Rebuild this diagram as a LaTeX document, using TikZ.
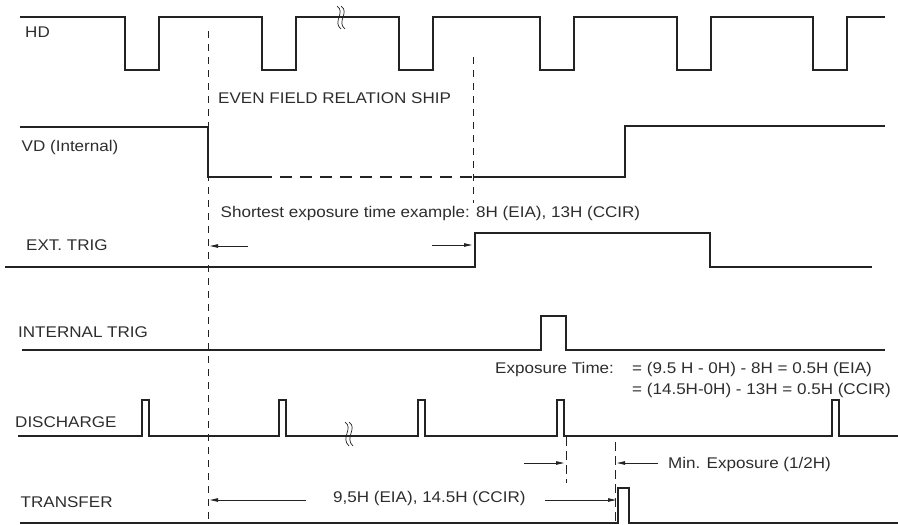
\documentclass[tikz,border=0pt]{standalone}
\usepackage{fontspec}
\setmainfont{Liberation Sans}[FakeStretch=1.1]
\usetikzlibrary{arrows.meta}
\definecolor{ink}{RGB}{35,35,35}
\definecolor{txt}{RGB}{45,45,45}
\tikzset{
  sig/.style={draw=ink,line width=1.6pt},  % waveform
  guide/.style={draw=ink,line width=0.8pt,dash pattern=on 7pt off 6pt},
  guidefine/.style={draw=ink,line width=0.8pt,dash pattern=on 9pt off 5pt},
  vddash/.style={draw=ink,line width=1.6pt,dash pattern=on 12pt off 8pt},
  dim/.style={draw=ink,line width=0.8pt,-{Triangle[length=8pt,width=3.5pt]}},
  brk/.style={draw=ink,line width=0.7pt},
  lbl/.style={anchor=base west,inner sep=0pt,text=txt,font=\fontsize{15.5}{18}\selectfont},
}
\begin{document}
\begin{tikzpicture}[x=1pt,y=-1pt]
\useasboundingbox (0,0) rectangle (898,525);

% signal names
\node[lbl] (hd) at (25,37.5) {HD};
\node[lbl] (vd) at (21.5,151) {VD (Internal)};
\node[lbl] (ext) at (26,250) {EXT. TRIG};
\node[lbl] (int) at (18,337) {INTERNAL TRIG};
\node[lbl] (dis) at (15,427) {DISCHARGE};
\node[lbl] (tra) at (20.5,507) {TRANSFER};

% notes
\node[lbl] (even) at (218,103.5) {EVEN FIELD RELATION SHIP};
\node[lbl] (short) at (220.5,217) {Shortest exposure time example: 8H (EIA), 13H (CCIR)};
\node[lbl] (expo) at (495,373) {Exposure Time:};
\node[lbl] (eq1) at (632,373) {= (9.5 H - 0H) - 8H = 0.5H (EIA)};
\node[lbl] (eq2) at (632,394) {= (14.5H-0H) - 13H = 0.5H (CCIR)};
\node[lbl] (minx) at (668,468) {Min. Exposure (1/2H)};
\node[lbl] (tdel) at (333,502.5) {9,5H (EIA), 14.5H (CCIR)};

% waveforms
\draw[sig] (20,17) foreach \x in {125,262,399,540,677,813} {
  -- (\x,17) -- (\x,70) -- ++(34,0) -- ++(0,-53)} -- (885,17);
\draw[sig] (20,127) -- (208,127) -- (208,177) -- (260,177);
\draw[vddash] (260,177) -- (473,177);
\draw[sig] (473,177) -- (625,177) -- (625,126) -- (885,126);
\draw[sig] (5,267) -- (475,267) -- (475,233) -- (710,233) -- (710,267) -- (872,267);
\draw[sig] (22,350) -- (541,350) -- (541,316) -- (566,316) -- (566,350) -- (885,350);
\draw[sig] (18,436) foreach \x in {142,279,418,557,832} {
  -- (\x,436) -- (\x,400) -- ++(7,0) -- ++(0,36)} -- (898,436);
\draw[sig] (20,523) -- (618,523) -- (618,488) -- (629,488) -- (629,523) -- (898,523);

% break marks
\foreach \d in {0,4} \draw[brk] (337+\d,6) .. controls (346+\d,12) and (332+\d,22) .. (341+\d,29);
\foreach \d in {0,4} \draw[brk] (345+\d,422) .. controls (354+\d,428) and (340+\d,438) .. (349+\d,446);

% guides
\draw[guide] (208,31) -- (208,521);
\draw[guide] (473,57) -- (473,203);
\draw[guidefine] (566,437) -- (566,483);
\draw[guidefine] (615,442) -- (615,521);

% dimension arrows
\coordinate (e1) at (248,246); \coordinate (e2) at (210,246);
\coordinate (e3) at (432,245); \coordinate (e4) at (472,245);
\coordinate (m1) at (524,463); \coordinate (m2) at (564,463);
\coordinate (m3) at (658,463); \coordinate (m4) at (617,463);
\coordinate (t1) at (306,500); \coordinate (t2) at (210,500);
\coordinate (t3) at (545,500); \coordinate (t4) at (616,500);
\draw[dim] (e1) -- (e2);
\draw[dim] (e3) -- (e4);
\draw[dim] (m1) -- (m2);
\draw[dim] (m3) -- (m4);
\draw[dim] (t1) -- (t2);
\draw[dim] (t3) -- (t4);
\end{tikzpicture}
\end{document}
